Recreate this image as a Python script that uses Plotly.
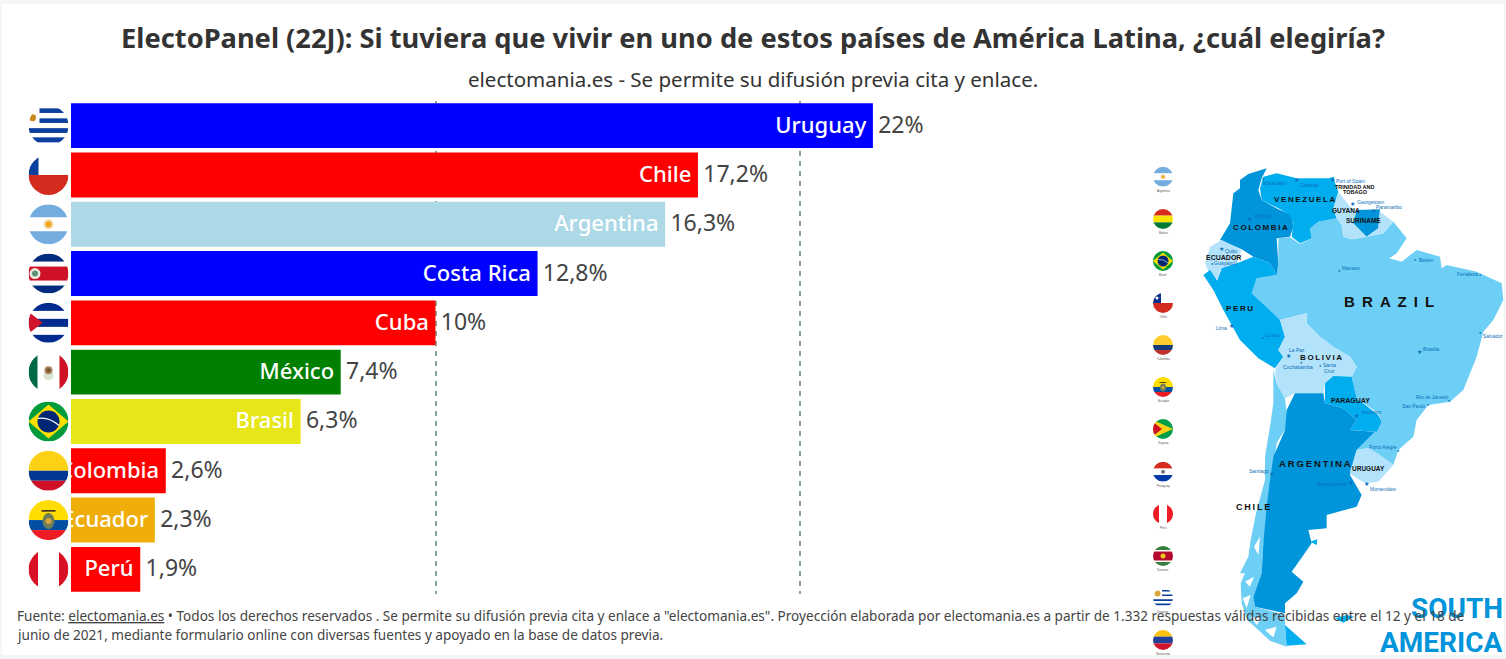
import base64
import plotly.graph_objects as go

W, H = 1506, 659

paises = ["Uruguay", "Chile", "Argentina", "Costa Rica", "Cuba", "México", "Brasil", "Colombia", "Ecuador", "Perú"]
valores = [22, 17.2, 16.3, 12.8, 10, 7.4, 6.3, 2.6, 2.3, 1.9]
colores = ["#0000ff", "#ff0000", "#add8e6", "#0000ff", "#ff0000", "#008000", "#e6e619", "#ff0000", "#efad0a", "#ff0000"]
ticks_x = [0, 10, 20]

titulo = "ElectoPanel (22J): Si tuviera que vivir en uno de estos países de América Latina, ¿cuál elegiría?"
subtitulo = "electomania.es - Se permite su difusión previa cita y enlace."
fuente = [
    'Fuente: <u>electomania.es</u> • Todos los derechos reservados . Se permite su difusión previa cita y enlace a "electomania.es". Proyección elaborada por electomania.es a partir de 1.332 respuestas válidas recibidas entre el 12 y el 18 de',
    "junio de 2021, mediante formulario online con diversas fuentes y apoyado en la base de datos previa.",
]

FUENTE = "Noto Sans"
ARIAL = "Liberation Sans"

# posicion del grafico en pixeles
X0, X1 = 71, 1100
Y0, Y1 = 101, 594
ESCALA = 36.45


def px(x):
    return x / W


def py(y):
    return 1 - y / H


# ---- banderas (svg de 40x40 recortado en circulo)
def svg(cuerpo):
    s = (
        '<svg xmlns="http://www.w3.org/2000/svg" width="80" height="80" viewBox="0 0 40 40">'
        '<clipPath id="c"><circle cx="20" cy="20" r="20"/></clipPath>'
        f'<g clip-path="url(#c)"><rect width="40" height="40" fill="#fff"/>{cuerpo}</g></svg>'
    )
    return "data:image/svg+xml;base64," + base64.b64encode(s.encode()).decode()


def r(x, y, w, h, c):
    return f'<rect x="{x}" y="{y}" width="{w}" height="{h}" fill="{c}"/>'


def c(x, y, rad, col):
    return f'<circle cx="{x}" cy="{y}" r="{rad}" fill="{col}"/>'


def franjas(c1, c2, c3):
    return r(0, 0, 40, 20, c1) + r(0, 20, 40, 10, c2) + r(0, 30, 40, 10, c3)


UY = "#0b3f9e"
banderas = {
    "Uruguay": r(11, 2.7, 29, 4.6, UY) + r(11, 12.7, 29, 4.6, UY) + r(0, 22.5, 40, 4.8, UY) + r(0, 31.7, 40, 5, UY) + c(4, 12, 3.5, "#c98a1b"),
    "Chile": r(0, 20, 40, 20, "#d52b1e") + r(0, 0, 10, 20, "#0b3f9e"),
    "Argentina": r(0, 0, 40, 13, "#74acdf") + r(0, 27, 40, 13, "#74acdf") + c(20, 20, 5, "#f2d9a8") + c(20, 20, 3, "#f0a81e"),
    "Costa Rica": r(0, 0, 40, 8, "#002b7f") + r(0, 32, 40, 8, "#002b7f") + r(0, 13, 40, 14, "#ce1126") + c(6.5, 20, 5.5, "#e9eadf") + c(6.5, 20, 3, "#5d8f74"),
    "Cuba": r(0, 0, 40, 8, "#002a8f") + r(0, 16, 40, 8, "#002a8f") + r(0, 32, 40, 8, "#002a8f") + '<polygon points="0,9 14,20 0,31" fill="#cf142b"/>',
    "México": r(0, 0, 9, 40, "#006847") + r(31, 0, 9, 40, "#ce1126") + c(20, 23, 5, "#d8e4d4") + c(20, 18, 4, "#a9805a") + c(20, 18, 2, "#6f5233"),
    "Brasil": r(0, 0, 40, 40, "#009b3a") + '<polygon points="20,3 40,20 20,37 0,20" fill="#fedf00"/>' + c(20, 20, 11, "#002776") + '<path d="M9.5 17 Q20 15 30.5 24" stroke="#fff" stroke-width="1.2" fill="none"/>',
    "Colombia": franjas("#fcd116", "#003893", "#ce1126"),
    "Ecuador": franjas("#ffdd00", "#034ea2", "#ed1c24") + '<ellipse cx="20" cy="21" rx="6" ry="8" fill="#6d7f57"/>' + c(20, 21, 3, "#d9a441") + r(13, 10, 14, 1.6, "#3a2a1c"),
    "Perú": r(0, 0, 9.5, 40, "#d91023") + r(30.5, 0, 9.5, 40, "#d91023"),
}
banderas_mini = {
    "Argentina": banderas["Argentina"],
    "Bolivia": r(0, 0, 40, 13.3, "#d52b1e") + r(0, 13.3, 40, 13.4, "#f9e300") + r(0, 26.7, 40, 13.3, "#007934"),
    "Brasil": banderas["Brasil"],
    "Chile": r(0, 20, 40, 20, "#d52b1e") + r(0, 0, 16, 20, "#0b2f8e") + c(8, 10, 3, "#fff"),
    "Colombia": franjas("#ffce2e", "#163a78", "#c0322f"),
    "Ecuador": banderas["Ecuador"],
    "Guyana": r(0, 0, 40, 40, "#009e49") + '<polygon points="0,2 40,20 0,38" fill="#fcd116"/><polygon points="0,6 18,20 0,34" fill="#ce1126"/>',
    "Paraguay": r(0, 0, 40, 13.3, "#d52b1e") + r(0, 26.7, 40, 13.3, "#0038a8") + c(20, 20, 4, "#777"),
    "Perú": r(0, 0, 12, 40, "#ef1c25") + r(28, 0, 12, 40, "#ef1c25"),
    "Surinam": r(0, 0, 40, 8, "#377e3f") + r(0, 11, 40, 18, "#b40a2d") + r(0, 32, 40, 8, "#377e3f") + c(20, 20, 5, "#ecc81d"),
    "Uruguay": r(18, 4, 22, 3, "#0b3f9e") + r(18, 13, 22, 3, "#0b3f9e") + r(0, 22.5, 40, 3.5, "#0b3f9e") + r(0, 31, 40, 3.5, "#0b3f9e") + c(9, 11, 6, "#d9a83a"),
    "Venezuela": r(0, 0, 40, 13.3, "#fcc010") + r(0, 13.3, 40, 13.4, "#1f3f99") + r(0, 26.7, 40, 13.3, "#cf142b"),
}
mini_y = [176.7, 219, 261, 303, 345, 387, 429, 471.7, 514, 556, 598, 640]

# ---- mapa: contornos a mano sobre la imagen (unidades de zoom, ver mx/my)
OSCURO, MEDIO, CLARO, PALIDO = "#0095da", "#00adef", "#6dcff6", "#b3e3fb"
mapa = [
    (CLARO, [(430,660),(440,700),(465,745),(470,790),(470,830),(440,880),(430,950),(420,1040),(410,1130),(400,1180),(395,1270),(370,1340),(375,1370),(465,1395),(465,1430),(470,1490),(420,1472),(385,1440),(352,1410),(335,1360),(332,1300),(345,1270),(330,1270),(355,1220),(362,1170),(378,1090),(405,990),(405,920),(420,830),(430,760)]),
    (CLARO, [(445,265),(480,262),(510,282),(545,265),(540,235),(565,215),(620,205),(635,225),(640,260),(665,268),(710,260),(760,250),(790,215),(830,265),(800,310),(778,325),(815,335),(860,300),(930,320),(935,355),(950,345),(1040,365),(1115,400),(1120,450),(1090,510),(1060,545),(1040,620),(1000,720),(960,755),(895,765),(860,810),(850,860),(805,900),(790,945),(755,920),(715,895),(680,900),(735,845),(755,815),(745,790),(680,745),(665,680),(680,650),(660,620),(610,590),(570,560),(530,520),(530,490),(450,510),(430,490),(365,430),(380,385),(440,375),(445,340)]),
    (OSCURO, [(330,90),(355,72),(410,55),(395,85),(385,120),(395,150),(445,178),(485,195),(490,230),(480,260),(440,265),(445,340),(440,375),(420,340),(370,320),(335,298),(270,270),(300,220),(310,130),(330,115)]),
    (MEDIO, [(400,80),(440,70),(500,85),(550,85),(610,85),(625,125),(610,175),(620,205),(565,215),(540,235),(545,265),(510,280),(485,260),(490,220),(480,195),(445,175),(395,150),(390,115)]),
    (PALIDO, [(625,125),(660,170),(680,180),(670,220),(708,260),(665,268),(640,260),(635,225),(620,205),(610,175)]),
    (OSCURO, [(680,180),(750,178),(745,235),(710,260),(670,220)]),
    (PALIDO, [(750,185),(790,215),(760,250),(710,260),(745,235)]),
    (PALIDO, [(240,290),(275,270),(335,300),(320,335),(270,360),(265,390),(240,375),(225,340)]),
    (MEDIO, [(220,375),(240,360),(262,392),(275,355),(320,340),(370,320),(420,340),(440,375),(380,385),(365,430),(430,490),(450,510),(465,560),(445,600),(460,620),(435,655),(385,625),(330,570),(280,480),(250,420)]),
    (PALIDO, [(450,510),(530,490),(530,520),(570,560),(610,590),(660,620),(680,650),(665,680),(610,680),(585,700),(580,730),(495,730),(465,745),(440,700),(435,660),(460,620),(445,600),(465,560)]),
    (MEDIO, [(585,700),(610,678),(665,680),(680,745),(745,795),(755,815),(740,845),(660,840),(680,810),(640,775),(585,760)]),
    (OSCURO, [(470,780),(495,730),(580,730),(585,760),(640,775),(680,810),(660,840),(735,845),(680,900),(660,975),(695,1035),(680,1070),(590,1095),(590,1135),(535,1140),(545,1180),(510,1230),(485,1265),(520,1295),(500,1330),(465,1360),(465,1390),(375,1370),(370,1340),(395,1270),(400,1180),(410,1070),(420,990),(430,920),(465,840)]),
    (PALIDO, [(680,900),(715,893),(755,918),(790,945),(745,995),(705,1000),(665,975),(660,965)]),
    (MEDIO, [(465,1425),(530,1483),(470,1487)]),
    (MEDIO, [(615,1405),(650,1395),(672,1400),(640,1418)]),
    (MEDIO, [(540,1175),(562,1168),(560,1185)]),
    (MEDIO, [(598,84),(612,80),(614,96),(600,98)]),
    # islas del sur, recortes blancos sobre Chile
    ("white", [(345,1295),(372,1280),(360,1310)]),
    ("white", [(338,1345),(362,1335),(350,1375)]),
    ("white", [(362,1400),(395,1405),(380,1425)]),
    ("white", [(405,1440),(440,1430),(430,1462)]),
    ("white", [(372,1190),(390,1160),(385,1215)]),
]


def mx(v):
    return 1130 + v / 3


def my(v):
    return 150 + v / 3


def camino(puntos):
    return "M " + " L ".join(f"{px(mx(a)):.5f},{py(my(b)):.5f}" for a, b in puntos) + " Z"


# nombre, x, y, tamano (negro = paises)
paises_mapa = [
    ("V\u2009E\u2009N\u2009E\u2009Z\u2009U\u2009E\u2009L\u2009A", 522, 147, 8), ("TRINIDAD AND", 675, 110, 5.5), ("TOBAGO", 675, 127, 5.5),
    ("GUYANA", 648, 183, 6.5), ("SURINAME", 700, 212, 6.5), ("C\u2009O\u2009L\u2009O\u2009M\u2009B\u2009I\u2009A", 392, 232, 8),
    ("ECUADOR", 280, 322, 7), ("B \u2009R \u2009A \u2009Z \u2009I \u2009L", 778, 456, 15), ("P\u2009E\u2009R\u2009U", 328, 477, 8),
    ("B\u2009O\u2009L\u2009I\u2009V\u2009I\u2009A", 572, 622, 8), ("PARAGUAY", 660, 751, 7), ("A\u2009R\u2009G\u2009E\u2009N\u2009T\u2009I\u2009N\u2009A", 555, 940, 9.5),
    ("URUGUAY", 715, 956, 6.5), ("C\u2009H\u2009I\u2009L\u2009E", 369, 1070, 9),
]
ciudades = [
    ("Port of Spain", 660, 92), ("Maracaibo", 435, 100), ("Caracas", 538, 105), ("Georgetown", 720, 155), ("Paramaribo", 778, 172),
    ("Bogota", 398, 198), ("Quito", 303, 304), ("Guayaquil", 285, 339), ("Manaus", 663, 353), ("Belem", 888, 329),
    ("Fortaleza", 1013, 373), ("Lima", 274, 535), ("Cusco", 426, 555), ("La Paz", 502, 601), ("Cochabamba", 503, 651),
    ("Santa", 597, 645), ("Cruz", 597, 662), ("Brasilia", 904, 597), ("Salvador", 1088, 557), ("Rio de Janeiro", 905, 741),
    ("Sao Paulo", 851, 769), ("Asuncion", 723, 786), ("Porto Alegre", 758, 891), ("Santiago", 386, 963), ("Buenos Aires", 606, 1002),
    ("Montevideo", 759, 1016),
]
capitales = [(500,90),(606,90),(668,163),(729,182),(358,207),(273,298),(303,529),(476,618),(867,605),(678,798),(425,972),(662,999),(709,1003)]
otras = [(400,85),(246,339),(629,360),(856,327),(1050,372),(400,562),(513,638),(570,647),(1052,546),(958,750),(895,764),(805,900)]

# ---- figura
textos_valor = ["\u200a" + f"{v}%".replace(".", ",") for v in valores]
textos_pais = [p + "\u2009" for p in paises]

ANCHO = 0.91
SUBE = -2.0 / ((Y1 - Y0) / len(paises))  # el texto queda 2px mas alto que el centro de la barra

fig = go.Figure()
fig.add_trace(go.Bar(
    y=paises, x=valores, orientation="h", width=ANCHO, marker=dict(color=colores, line_width=0), hoverinfo="skip",
))
fig.add_trace(go.Bar(
    y=paises, x=valores, orientation="h", width=ANCHO, offset=-ANCHO / 2 + SUBE, marker=dict(color="rgba(0,0,0,0)", line_width=0),
    text=textos_pais, textposition="inside", insidetextanchor="end", textangle=0, constraintext="none",
    insidetextfont=dict(family=FUENTE, size=22, color="white", weight=500), cliponaxis=True, hoverinfo="skip",
))
fig.add_trace(go.Bar(
    y=paises, x=valores, orientation="h", width=ANCHO, offset=-ANCHO / 2 + SUBE, marker=dict(color="rgba(0,0,0,0)", line_width=0),
    text=textos_valor, textposition="outside", textangle=0, constraintext="none",
    outsidetextfont=dict(family=FUENTE, size=23, color="#444444"), cliponaxis=False, hoverinfo="skip",
))

anot = []


def texto(t, x, y, size, color="#000000", fam=FUENTE, anchor="center"):
    anot.append(dict(text=t, x=px(x), y=py(y), xref="paper", yref="paper", showarrow=False, xanchor=anchor,
                     yanchor="middle", align="left", font=dict(family=fam, size=size, color=color)))


texto(subtitulo, 753, 79.5, 20.5, "#333333")
for a, b in capitales:
    texto("★", mx(a), my(b), 6, "#0a6fb8", ARIAL)
for a, b in otras:
    texto("●", mx(a), my(b), 4, "#0a6fb8", ARIAL)
for nombre, a, b in ciudades:
    texto(nombre, mx(a), my(b), 5, "#0a6fb8", ARIAL)
for nombre, a, b, s in paises_mapa:
    texto(f"<b>{nombre}</b>", mx(a), my(b), s, "#111111", ARIAL)
texto("<b>SOUTH</b>", 1505, 608, 28, OSCURO, "Roboto", "right")
texto("<b>AMERICA</b>", 1505, 642, 28, OSCURO, "Roboto", "right")
for nombre, y in zip(banderas_mini, mini_y):
    texto(nombre, 1163, y + 14, 3, "#555555", ARIAL)
texto(fuente[0], 15, 615, 13.58, "#444444", anchor="left")
texto(fuente[1], 15, 634, 13.58, "#444444", anchor="left")

imagenes = []
paso = (Y1 - Y0) / len(paises)
for i, p in enumerate(paises):
    yc = Y0 + paso * (i + 0.5)
    imagenes.append(dict(source=svg(banderas[p]), xref="paper", yref="paper", x=px(28.5), y=py(yc - 20),
                         sizex=40 / W, sizey=40 / H, xanchor="left", yanchor="top", sizing="stretch"))
for nombre, y in zip(banderas_mini, mini_y):
    imagenes.append(dict(source=svg(banderas_mini[nombre]), xref="paper", yref="paper", x=px(1153), y=py(y - 10),
                         sizex=20 / W, sizey=20 / H, xanchor="left", yanchor="top", sizing="stretch"))

formas = [dict(type="rect", xref="paper", yref="paper", x0=px(2), x1=px(1504), y0=py(655), y1=py(4),
               fillcolor="white", line_width=0, layer="below")]
for color, puntos in mapa:
    formas.append(dict(type="path", xref="paper", yref="paper", path=camino(puntos), fillcolor=color, line_width=0, layer="below"))

fig.update_layout(
    width=W, height=H, margin=dict(l=0, r=0, t=0, b=0), showlegend=False,
    barmode="overlay", paper_bgcolor="#f6f6f6", plot_bgcolor="rgba(0,0,0,0)",
    title=dict(text=f"<b>{titulo}</b>", x=0.5, xanchor="center", y=1 - 38 / H, yanchor="middle",
               font=dict(family=FUENTE, size=27.25, color="#333333")),
    xaxis=dict(domain=[px(X0), px(X1)], range=[0, (X1 - X0) / ESCALA], tickvals=ticks_x, showticklabels=False, ticks="",
               showgrid=True, gridcolor="#86a68f", griddash="5px,5px", gridwidth=1.5, zeroline=False, showline=False),
    yaxis=dict(domain=[py(Y1), py(Y0)], autorange="reversed", showticklabels=False, ticks="", showgrid=False,
               zeroline=False, showline=False),
    annotations=anot, images=imagenes, shapes=formas,
)

fig.write_html("out.html", config={"displayModeBar": False}, post_script="document.body.style.margin='0';")
